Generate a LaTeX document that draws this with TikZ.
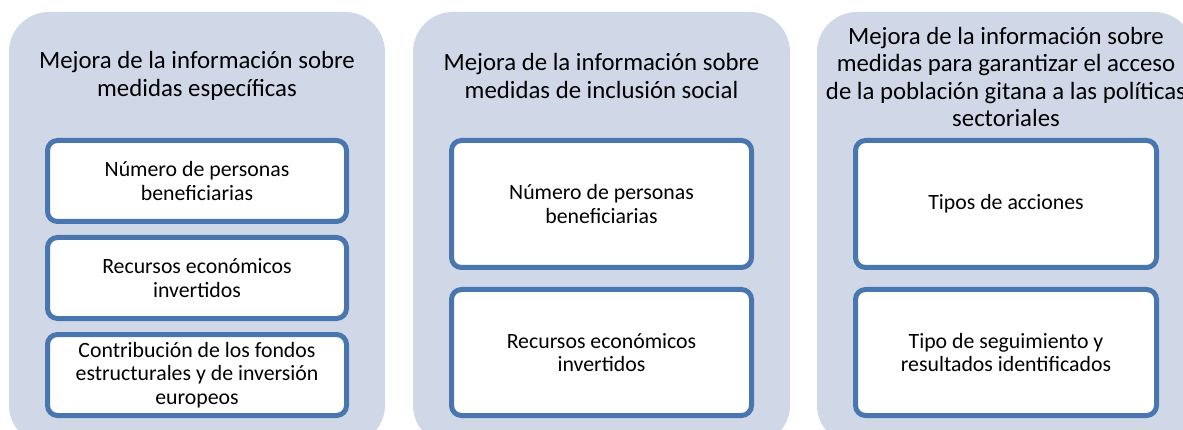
\documentclass[tikz,border=0pt]{standalone}
\usepackage{fontspec}
\setmainfont{Carlito}
\definecolor{panelfill}{HTML}{D0D8E8}
\definecolor{boxblue}{HTML}{4A76AF}
\begin{document}
\begin{tikzpicture}[x=1pt,y=-1pt,
  panel/.style={fill=panelfill, rounded corners=40pt, minimum width=#1, minimum height=433pt, inner sep=0pt},
  itembox/.style={draw=boxblue, line width=5pt, fill=white, rounded corners=10pt, align=center,
    font=\fontsize{21.8}{23.3}\selectfont, inner sep=0pt},
  title/.style={align=center, font=\fontsize{24.8}{27.5}\selectfont, inner sep=0pt}]
\useasboundingbox (0,0) rectangle (1183,430);
\clip (0,0) rectangle (1183,430);
% panels
\node[panel=376pt] (p1) at (197,228.5) {};
\node[panel=377pt] (p2) at (601.5,228.5) {};
\node[panel=377pt] (p3) at (1005.5,228.5) {};
% titles
\node[title] (t1) at (197,76) {Mejora de la información sobre\\medidas específicas};
\node[title] (t2) at (601.5,76) {Mejora de la información sobre\\medidas de inclusión social};
\node[title] (t3) at (1006,77) {Mejora de la información sobre\\medidas para garantizar el acceso\\de la población gitana a las políticas\\sectoriales};
% panel 1 boxes
\node[itembox, minimum width=299pt, minimum height=81pt] (b11) at (197,181) {Número de personas\\beneficiarias};
\node[itembox, minimum width=299pt, minimum height=81pt] (b12) at (197,278) {Recursos económicos\\invertidos};
\node[itembox, minimum width=299pt, minimum height=81pt] (b13) at (197,375) {Contribución de los fondos\\estructurales y de inversión\\europeos};
% panel 2 boxes
\node[itembox, minimum width=300pt, minimum height=127pt] (b21) at (601.5,204) {Número de personas\\beneficiarias};
\node[itembox, minimum width=300pt, minimum height=126pt] (b22) at (601.5,352.5) {Recursos económicos\\invertidos};
% panel 3 boxes
\node[itembox, minimum width=301pt, minimum height=127pt] (b31) at (1006,204) {Tipos de acciones};
\node[itembox, minimum width=301pt, minimum height=126pt] (b32) at (1006,352.5) {Tipo de seguimiento y\\resultados identificados};
\end{tikzpicture}
\end{document}
